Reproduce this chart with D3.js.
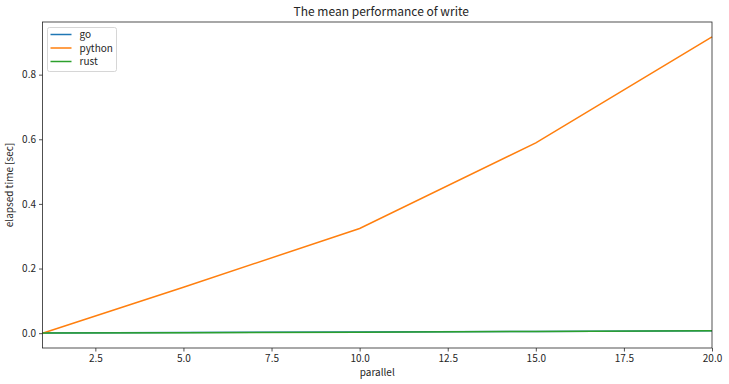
<!DOCTYPE html>
<html><head><meta charset="utf-8">
<script src="https://cdn.jsdelivr.net/npm/d3@7"></script>
<style>
body{margin:0;background:#fff;}
text{font-family:"Noto Sans CJK JP","Noto Sans",sans-serif;fill:#262626;}
</style></head>
<body><svg id="c" width="729" height="384"></svg>
<script>
const parallel = [1, 5, 10, 15, 20];
const goValues = [0.0005, 0.0018, 0.0035, 0.0055, 0.0075];
const pythonValues = [0.0, 0.142, 0.324, 0.589, 0.917];
const rustValues = [0.0004, 0.0016, 0.0032, 0.0052, 0.0072];
const seriesNames = ["go", "python", "rust"];
const colors = ["#1f77b4", "#ff7f0e", "#2ca02c"];
const xTicks = [2.5, 5.0, 7.5, 10.0, 12.5, 15.0, 17.5, 20.0];
const yTicks = [0.0, 0.2, 0.4, 0.6, 0.8];

const series = [goValues, pythonValues, rustValues];
const svg = d3.select("#c");
const L = 42.5, R = 712, T = 22, B = 348;
const x = d3.scaleLinear().domain([1, 20]).range([L, R]);
const y = d3.scaleLinear().domain([-0.0459, 0.9629]).range([B, T]);

const g = svg.append("g");
const line = d3.line().x((d, i) => x(parallel[i])).y(d => y(d));
series.forEach((s, k) => {
  g.append("path").datum(s).attr("d", line)
    .attr("fill", "none").attr("stroke", colors[k]).attr("stroke-width", 1.5);
});

const xa = svg.append("g").attr("transform", `translate(0,${B})`)
  .call(d3.axisBottom(x).tickValues(xTicks).tickFormat(d3.format(".1f")).tickSize(3.5).tickPadding(3));
const ya = svg.append("g").attr("transform", `translate(${L},0)`)
  .call(d3.axisLeft(y).tickValues(yTicks).tickFormat(d3.format(".1f")).tickSize(3.5).tickPadding(3));
[xa, ya].forEach(a => {
  a.select(".domain").remove();
  a.selectAll("line").attr("stroke", "#262626").attr("stroke-width", 0.8);
  a.selectAll("text").style("font-size", "10px").attr("fill", "#262626");
});

svg.append("rect").attr("x", L).attr("y", T).attr("width", R - L).attr("height", B - T)
  .attr("fill", "none").attr("stroke", "#262626").attr("stroke-width", 0.8);

svg.append("text").attr("x", (L + R) / 2 + 4).attr("y", 16).attr("text-anchor", "middle")
  .style("font-size", "12px").text("The mean performance of write");
svg.append("text").attr("x", (L + R) / 2).attr("y", 376).attr("text-anchor", "middle")
  .style("font-size", "10px").text("parallel");
svg.append("text").attr("transform", `translate(13,${(T + B) / 2}) rotate(-90)`)
  .attr("text-anchor", "middle").style("font-size", "10px").text("elapsed time [sec]");

const lg = svg.append("g").attr("transform", "translate(47.5,27.5)");
lg.append("rect").attr("width", 69).attr("height", 44).attr("rx", 2)
  .attr("fill", "#fff").attr("fill-opacity", 0.8).attr("stroke", "#cccccc").attr("stroke-width", 0.8);
seriesNames.forEach((n, i) => {
  const yy = 7 + i * 13.5;
  lg.append("line").attr("x1", 3).attr("x2", 24).attr("y1", yy).attr("y2", yy)
    .attr("stroke", colors[i]).attr("stroke-width", 1.5);
  lg.append("text").attr("x", 32).attr("y", yy + 3.5).style("font-size", "10px").text(n);
});
</script></body></html>
